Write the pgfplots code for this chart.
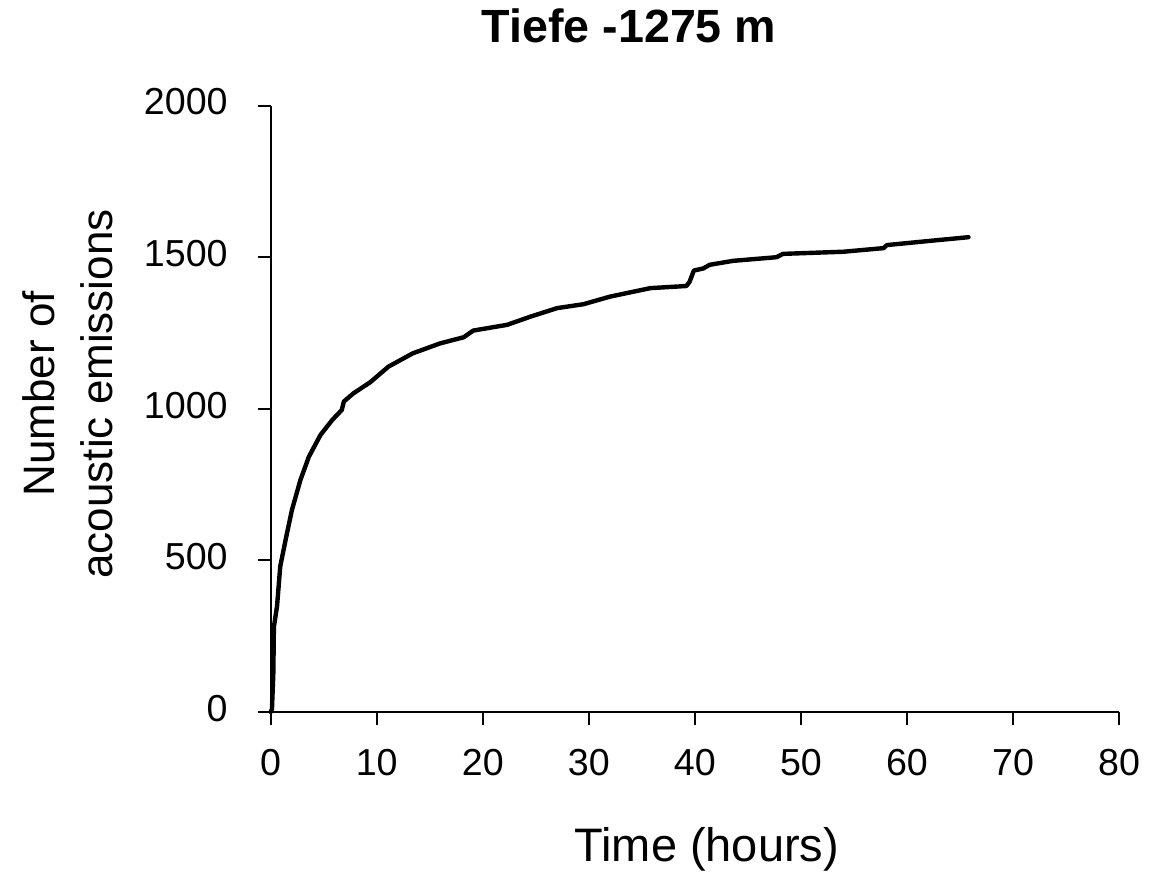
\documentclass[border=0pt]{standalone}
\usepackage{pgfplots}
\pgfplotsset{compat=1.18}
\usepackage{fontspec}
\setmainfont{Liberation Sans}
\begin{document}
\begin{tikzpicture}
\useasboundingbox (-135.35pt,-80.5pt) rectangle (444.65pt,356pt);
\begin{axis}[
  at={(0,0)}, anchor=south west,
  scale only axis,
  width=424.2pt, height=303.2pt,
  xmin=0, xmax=80, ymin=0, ymax=2000,
  axis x line*=bottom, axis y line*=left,
  axis line style={line width=1pt},
  xtick={0,10,...,80}, ytick={0,500,...,2000},
  tick align=outside,
  major tick length=6.25pt,
  every tick/.style={black, line width=1pt},
  /pgf/number format/assume math mode=true,
  /pgf/number format/1000 sep={},
  tick label style={font=\fontsize{18.8}{22.5}\selectfont},
  xticklabel style={anchor=base, inner sep=0pt, yshift=-25.25pt},
  yticklabel style={anchor=east, inner sep=0pt, xshift=-15.1pt, yshift=1.8pt},
  xlabel={Time (hours)},
  xlabel style={at={(axis description cs:0.514,-0.247)}, anchor=base, inner sep=0pt, font=\fontsize{23.5}{28}\selectfont},
  ylabel={Number of\\acoustic emissions},
  ylabel style={at={(axis description cs:-0.2395,0.5245)}, anchor=center, rotate=0, align=center, inner sep=0pt, font=\fontsize{22}{29}\selectfont},
  title={Tiefe -1275 m},
  title style={at={(axis description cs:0.4224,1.104)}, anchor=base, yshift=-6pt, inner sep=0pt, font=\fontsize{23.3}{28}\selectfont\bfseries},
  clip=false,
]
\addplot[black, line width=2.2pt, line join=round, line cap=round] coordinates {
(0,0) (0.12,10) (0.25,130) (0.3,280) (0.6,350) (0.9,480) (1.4,567)
(2.0,666) (2.8,765) (3.6,842) (4.7,914) (5.8,963) (6.7,996) (6.9,1024)
(7.8,1051) (9.4,1088) (11.1,1139) (13.4,1183) (16.0,1216) (18.2,1236)
(19.1,1258) (22.3,1277) (24.5,1304) (27.0,1332) (29.5,1345) (32.0,1370)
(35.8,1398) (39.2,1405) (39.5,1419) (39.9,1456) (40.8,1463) (41.4,1475)
(43.6,1488) (47.7,1500) (48.3,1511) (54.0,1518) (57.8,1530) (58.1,1540)
(62.5,1555) (65.8,1566)
};
\end{axis}
\end{tikzpicture}
\end{document}
